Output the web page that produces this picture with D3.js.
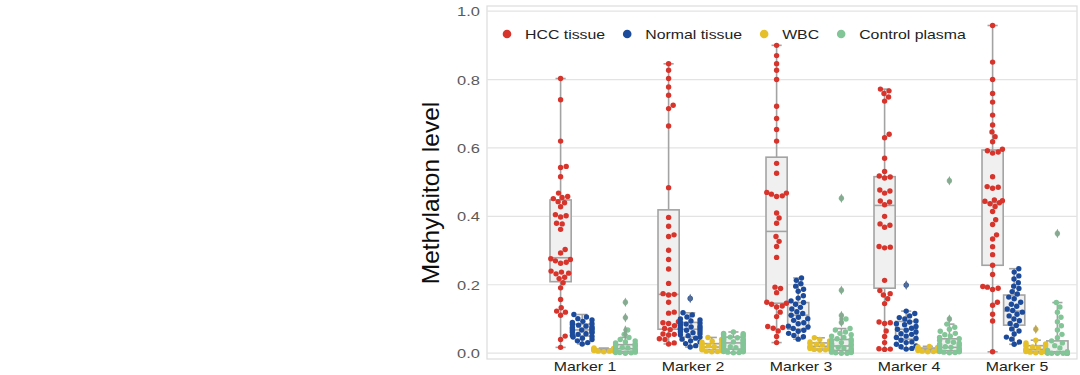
<!DOCTYPE html>
<html>
<head>
<meta charset="utf-8">
<script src="https://cdn.jsdelivr.net/npm/d3@7"></script>
<style>
    html, body { margin: 0; padding: 0; background: #fff; }
    svg { display: block; font-family: "Liberation Sans", Arial, sans-serif; }
</style>
</head>
<body>
<svg id="chart" width="1080" height="375"></svg>
<script>
// Kategorien und Gruppen
const markers = ["Marker 1", "Marker 2", "Marker 3", "Marker 4", "Marker 5"];
const groups = ["HCC tissue", "Normal tissue", "WBC", "Control plasma"];
const groupColors = ["#d7342c", "#1d4b9b", "#e6c02a", "#82c596"];
const yTicks = [0.0, 0.2, 0.4, 0.6, 0.8, 1.0];
const yTitle = "Methylaiton level";

const hccValues = [
    [0.803, 0.741, 0.62, 0.546, 0.543, 0.516, 0.468, 0.458, 0.455, 0.452, 0.443, 0.44, 0.428, 0.405, 0.402, 0.398, 0.38, 0.378, 0.362, 0.303, 0.293, 0.276, 0.274, 0.27, 0.266, 0.263, 0.24, 0.237, 0.234, 0.232, 0.222, 0.218, 0.206, 0.191, 0.157, 0.133, 0.123, 0.12, 0.111, 0.05, 0.04, 0.017],
    [0.846, 0.827, 0.803, 0.778, 0.754, 0.725, 0.715, 0.664, 0.484, 0.397, 0.371, 0.346, 0.341, 0.301, 0.274, 0.246, 0.204, 0.174, 0.172, 0.17, 0.149, 0.12, 0.117, 0.092, 0.089, 0.087, 0.08, 0.072, 0.069, 0.056, 0.055, 0.053, 0.042, 0.04, 0.03, 0.027],
    [0.9, 0.87, 0.846, 0.827, 0.8, 0.722, 0.686, 0.654, 0.62, 0.555, 0.526, 0.47, 0.468, 0.465, 0.46, 0.458, 0.41, 0.395, 0.38, 0.341, 0.327, 0.312, 0.28, 0.193, 0.189, 0.177, 0.149, 0.146, 0.143, 0.138, 0.135, 0.12, 0.107, 0.078, 0.075, 0.073, 0.065, 0.049, 0.031],
    [0.772, 0.767, 0.759, 0.749, 0.737, 0.64, 0.63, 0.57, 0.531, 0.518, 0.515, 0.512, 0.477, 0.474, 0.468, 0.445, 0.442, 0.434, 0.4, 0.378, 0.374, 0.368, 0.312, 0.31, 0.308, 0.213, 0.183, 0.174, 0.17, 0.159, 0.145, 0.091, 0.089, 0.087, 0.065, 0.049, 0.031, 0.013, 0.012, 0.011],
    [0.958, 0.851, 0.8, 0.759, 0.734, 0.696, 0.667, 0.647, 0.633, 0.618, 0.596, 0.592, 0.588, 0.585, 0.516, 0.487, 0.485, 0.482, 0.448, 0.446, 0.444, 0.44, 0.437, 0.429, 0.414, 0.39, 0.376, 0.346, 0.334, 0.311, 0.288, 0.257, 0.23, 0.195, 0.193, 0.19, 0.186, 0.149, 0.14, 0.114, 0.094, 0.004]
];
const normalValues = [
    [0.113, 0.106, 0.101, 0.097, 0.093, 0.09, 0.086, 0.084, 0.082, 0.079, 0.077, 0.075, 0.073, 0.071, 0.069, 0.068, 0.066, 0.063, 0.061, 0.06, 0.057, 0.055, 0.052, 0.049, 0.047, 0.044, 0.04, 0.036, 0.031, 0.027],
    [0.16, 0.118, 0.112, 0.106, 0.1, 0.097, 0.094, 0.09, 0.088, 0.085, 0.082, 0.079, 0.077, 0.074, 0.072, 0.07, 0.067, 0.065, 0.063, 0.06, 0.057, 0.054, 0.051, 0.047, 0.044, 0.041, 0.036, 0.033, 0.028, 0.022, 0.018],
    [0.22, 0.213, 0.203, 0.196, 0.187, 0.181, 0.168, 0.161, 0.153, 0.148, 0.143, 0.134, 0.129, 0.121, 0.116, 0.111, 0.105, 0.101, 0.096, 0.089, 0.086, 0.079, 0.077, 0.072, 0.067, 0.064, 0.058, 0.052, 0.048, 0.041],
    [0.199, 0.123, 0.116, 0.109, 0.104, 0.1, 0.094, 0.091, 0.086, 0.083, 0.078, 0.073, 0.07, 0.067, 0.062, 0.057, 0.055, 0.05, 0.046, 0.043, 0.038, 0.033, 0.031, 0.026, 0.021, 0.019, 0.014, 0.012],
    [0.247, 0.237, 0.226, 0.217, 0.206, 0.196, 0.189, 0.18, 0.173, 0.164, 0.159, 0.149, 0.143, 0.137, 0.129, 0.125, 0.12, 0.114, 0.109, 0.1, 0.095, 0.087, 0.081, 0.071, 0.065, 0.056, 0.047, 0.041, 0.033, 0.026]
];
const wbcValues = [
    [0.015, 0.014, 0.013, 0.012, 0.012, 0.011, 0.011, 0.01, 0.01, 0.009, 0.009, 0.008, 0.008, 0.007, 0.006, 0.006, 0.004],
    [0.046, 0.04, 0.035, 0.032, 0.03, 0.028, 0.026, 0.024, 0.022, 0.02, 0.019, 0.018, 0.016, 0.015, 0.014, 0.012, 0.011, 0.01, 0.008, 0.006, 0.005, 0.004],
    [0.045, 0.04, 0.036, 0.033, 0.03, 0.028, 0.026, 0.024, 0.022, 0.02, 0.019, 0.017, 0.015, 0.014, 0.012, 0.011, 0.01, 0.009],
    [0.02, 0.018, 0.017, 0.016, 0.015, 0.014, 0.013, 0.012, 0.011, 0.01, 0.009, 0.008, 0.007, 0.006, 0.005, 0.004],
    [0.07, 0.038, 0.03, 0.027, 0.025, 0.022, 0.02, 0.018, 0.016, 0.014, 0.012, 0.011, 0.01, 0.008, 0.007, 0.006, 0.005, 0.004, 0.003, 0.002, 0.001]
];
const controlValues = [
    [0.149, 0.104, 0.068, 0.055, 0.046, 0.04, 0.036, 0.033, 0.03, 0.028, 0.025, 0.023, 0.021, 0.019, 0.017, 0.015, 0.013, 0.012, 0.01, 0.009, 0.008, 0.007, 0.006, 0.005, 0.004, 0.003, 0.002, 0.002, 0.001, 0.0],
    [0.062, 0.058, 0.057, 0.055, 0.053, 0.05, 0.049, 0.047, 0.045, 0.043, 0.041, 0.04, 0.038, 0.036, 0.034, 0.033, 0.031, 0.029, 0.027, 0.026, 0.024, 0.022, 0.021, 0.019, 0.017, 0.016, 0.014, 0.012, 0.011, 0.009, 0.008, 0.006, 0.005, 0.004, 0.003, 0.002, 0.001],
    [0.453, 0.184, 0.11, 0.1, 0.09, 0.072, 0.068, 0.062, 0.058, 0.054, 0.05, 0.046, 0.042, 0.04, 0.037, 0.034, 0.031, 0.028, 0.026, 0.024, 0.021, 0.019, 0.017, 0.015, 0.013, 0.011, 0.009, 0.008, 0.006, 0.005, 0.004, 0.003, 0.002, 0.001, 0.0, 0.0],
    [0.504, 0.1, 0.085, 0.076, 0.07, 0.064, 0.058, 0.054, 0.05, 0.046, 0.042, 0.038, 0.035, 0.032, 0.029, 0.026, 0.023, 0.021, 0.019, 0.017, 0.015, 0.013, 0.011, 0.01, 0.008, 0.007, 0.006, 0.005, 0.004, 0.003, 0.002, 0.001],
    [0.35, 0.148, 0.135, 0.12, 0.105, 0.092, 0.08, 0.068, 0.055, 0.045, 0.036, 0.03, 0.022, 0.015, 0.008, 0.004, 0.002, 0.001, 0, 0, 0, 0, 0, 0, 0, 0]
];

// Boxplot-Kennwerte: [Q1, Median, Q3, unterer Whisker, oberer Whisker]
const hccBox = [
    [0.209, 0.279, 0.448, 0.017, 0.803],
    [0.07, 0.172, 0.419, 0.027, 0.846],
    [0.146, 0.356, 0.573, 0.031, 0.9],
    [0.19, 0.432, 0.516, 0.011, 0.772],
    [0.257, 0.44, 0.594, 0.004, 0.958]
];
const normalBox = [
    [0.05, 0.068, 0.085, 0.027, 0.113],
    [0.047, 0.07, 0.09, 0.018, 0.118],
    [0.07, 0.111, 0.148, 0.041, 0.22],
    [0.041, 0.07, 0.093, 0.012, 0.123],
    [0.082, 0.123, 0.17, 0.026, 0.247]
];
const wbcBox = [
    [0.007, 0.01, 0.012, 0.004, 0.015],
    [0.01, 0.018, 0.028, 0.004, 0.046],
    [0.012, 0.02, 0.03, 0.009, 0.045],
    [0.007, 0.011, 0.015, 0.004, 0.02],
    [0.005, 0.011, 0.022, 0.001, 0.038]
];
const controlBox = [
    [0.005, 0.013, 0.025, 0.0, 0.046],
    [0.012, 0.03, 0.047, 0.001, 0.062],
    [0.008, 0.021, 0.04, 0.0, 0.072],
    [0.007, 0.017, 0.042, 0.001, 0.085],
    [0.0, 0.004, 0.036, 0.0, 0.148]
];

const allValues = [hccValues, normalValues, wbcValues, controlValues];
const allBoxes = [hccBox, normalBox, wbcBox, controlBox];

// Layout
const frame = { left: 487, right: 1077, top: 6, bottom: 359 };
const textStretch = 1.22;   // Vorlage ist horizontal gestreckt
const dotR = 2.7;

const svg = d3.select("#chart");

const y = d3.scaleLinear().domain([-0.017, 1.015]).range([frame.bottom, frame.top]);
const x = d3.scaleBand().domain(markers).range([539, 1079]);
const hue = d3.scaleBand().domain(groups).range([-x.bandwidth() * 0.4, x.bandwidth() * 0.4]);
const hueCenter = g => hue(g) + hue.bandwidth() / 2;

// Rahmen + Gitter
svg.append("rect")
    .attr("x", frame.left).attr("y", frame.top)
    .attr("width", frame.right - frame.left).attr("height", frame.bottom - frame.top)
    .attr("fill", "#fff").attr("stroke", "#dcdcdc").attr("stroke-width", 1.2);

svg.append("g").selectAll("line")
    .data(yTicks)
    .join("line")
    .attr("x1", frame.left).attr("x2", frame.right)
    .attr("y1", d => y(d)).attr("y2", d => y(d))
    .attr("stroke", "#e3e3e3").attr("stroke-width", 1.2);

// y-Achsenbeschriftung
svg.append("g").selectAll("text")
    .data(yTicks)
    .join("text")
    .attr("transform", d => `translate(480,${y(d) + 5}) scale(${textStretch},1)`)
    .attr("text-anchor", "end")
    .attr("font-size", 13.5)
    .attr("fill", "#5a5a5a")
    .text(d => d.toFixed(1));

svg.append("text")
    .attr("transform", "translate(439,193) rotate(-90)")
    .attr("text-anchor", "middle")
    .attr("font-size", 24.5)
    .attr("fill", "#0d0d0d")
    .text(yTitle);

// x-Achsenbeschriftung
svg.append("g").selectAll("text")
    .data(markers)
    .join("text")
    .attr("transform", d => `translate(${x(d) + x.bandwidth() / 2 - 8},371) scale(${textStretch},1)`)
    .attr("text-anchor", "middle")
    .attr("font-size", 13)
    .attr("fill", "#222")
    .text(d => d);

// Beeswarm-Anordnung mit Rand (gutter) wie bei seaborn
function swarm(values, cx, halfWidth) {
    const d = dotR * 2 + 0.3;
    const pts = values.map(v => ({ v, y: y(v) })).sort((a, b) => b.y - a.y);
    const placed = [];
    pts.forEach(p => {
        const near = placed.filter(q => Math.abs(q.y - p.y) < d);
        const cands = [0];
        near.forEach(q => {
            const dx = Math.sqrt(d * d - (q.y - p.y) ** 2);
            cands.push(q.dx + dx, q.dx - dx);
        });
        cands.sort((a, b) => Math.abs(a) - Math.abs(b));
        let best = cands.find(c => near.every(q => (q.dx - c) ** 2 + (q.y - p.y) ** 2 >= d * d - 1e-6));
        if (best === undefined) best = 0;
        p.dx = Math.max(-halfWidth, Math.min(halfWidth, best));
        placed.push(p);
    });
    return placed.map(p => ({ ...p, x: cx + p.dx }));
}

const boxLayer = svg.append("g");
const dotLayer = svg.append("g");
const flierLayer = svg.append("g");
const boxW = hue.bandwidth() * 0.98;
const capW = boxW * 0.48;
const boxStroke = "#a3a3a3";

markers.forEach((m, mi) => {
    groups.forEach((g, gi) => {
        const cx = x(m) + x.bandwidth() / 2 + hueCenter(g);
        const [q1, med, q3, lo, hi] = allBoxes[gi][mi];
        const values = allValues[gi][mi];

        // Whisker + Kappen
        boxLayer.append("line")
            .attr("x1", cx).attr("x2", cx).attr("y1", y(q3)).attr("y2", y(hi))
            .attr("stroke", boxStroke).attr("stroke-width", 1.6);
        boxLayer.append("line")
            .attr("x1", cx).attr("x2", cx).attr("y1", y(q1)).attr("y2", y(lo))
            .attr("stroke", boxStroke).attr("stroke-width", 1.6);
        [lo, hi].forEach(v => {
            boxLayer.append("line")
                .attr("x1", cx - capW / 2).attr("x2", cx + capW / 2)
                .attr("y1", y(v)).attr("y2", y(v))
                .attr("stroke", boxStroke).attr("stroke-width", 1.6);
        });
        boxLayer.append("rect")
            .attr("x", cx - boxW / 2).attr("width", boxW)
            .attr("y", y(q3)).attr("height", Math.max(0.5, y(q1) - y(q3)))
            .attr("fill", "#f0f0f0").attr("stroke", boxStroke).attr("stroke-width", 1.6);
        boxLayer.append("line")
            .attr("x1", cx - boxW / 2).attr("x2", cx + boxW / 2)
            .attr("y1", y(med)).attr("y2", y(med))
            .attr("stroke", boxStroke).attr("stroke-width", 1.6);

        // Punkte
        const pts = swarm(values, cx, hue.bandwidth() / 2 - 1);
        dotLayer.append("g").selectAll("circle")
            .data(pts)
            .join("circle")
            .attr("cx", d => d.x).attr("cy", d => d.y)
            .attr("r", dotR)
            .attr("fill", groupColors[gi]);

        // Ausreißer als Raute
        const fliers = values.filter(v => v > hi + 1e-9 || v < lo - 1e-9);
        const flierColor = d3.interpolateRgb(groupColors[gi], "#8c8c8c")(0.5);
        flierLayer.append("g").selectAll("path")
            .data(fliers)
            .join("path")
            .attr("d", d3.symbol(d3.symbolDiamond, 24))
            .attr("transform", v => `translate(${cx},${y(v)}) scale(0.85,1.05)`)
            .attr("fill", flierColor);
    });
});

// Legende
const legend = svg.append("g");
let lx = 507;
groups.forEach((g, gi) => {
    legend.append("circle")
        .attr("cx", lx).attr("cy", 34).attr("r", 4.3)
        .attr("fill", groupColors[gi]);
    const t = legend.append("text")
        .attr("transform", `translate(${lx + 18},39) scale(${textStretch},1)`)
        .attr("font-size", 13)
        .attr("fill", "#222")
        .text(g);
    lx += 18 + t.node().getComputedTextLength() * textStretch + 22;
});
</script>
</body>
</html>
